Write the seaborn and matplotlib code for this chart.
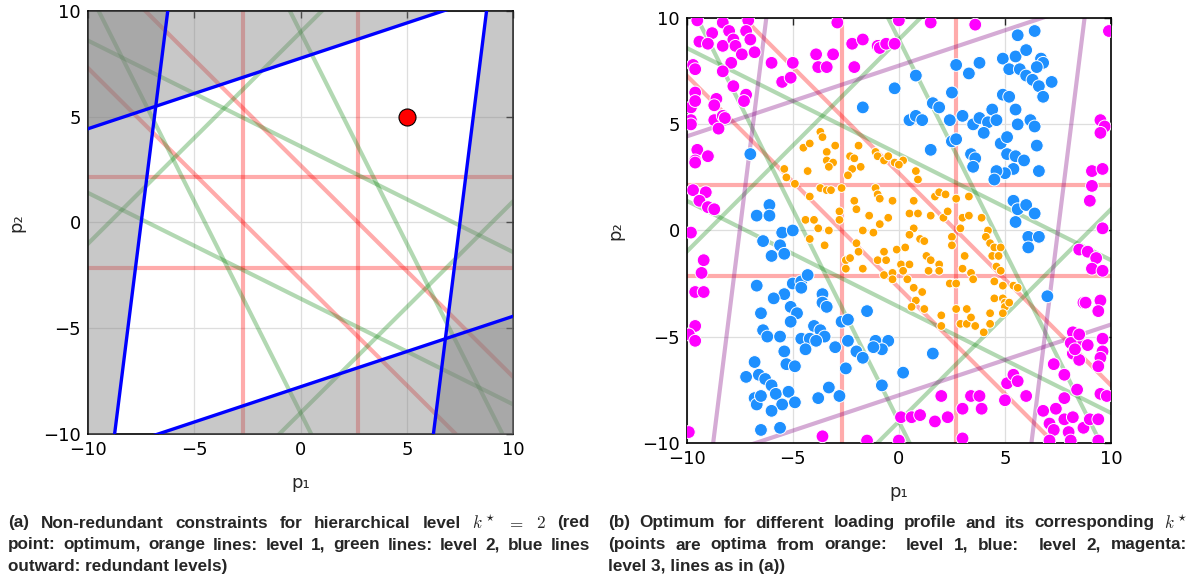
import numpy as np
import pandas as pd
import seaborn as sns
import matplotlib.pyplot as plt

# constraints a*p1 + b*p2 = c for each hierarchical level
level1_a = [1, 1, 0, 0, 1, 1]
level1_b = [0, 0, 1, 1, 1, 1]
level1_c = [-2.7, 2.7, 2.15, -2.15, 2.7, -2.7]
level2_a = [2, 2, 1, 1, -1, -1]
level2_b = [1, 1, 2, 2, 1, 1]
level2_c = [9, -9, 7.2, -7.2, 9, -9]
level3_a = [8, 8, -1, -1]
level3_b = [-1, -1, 3, 3]
level3_c = [60, -60, 23.3, -23.3]

optimum = [5, 5]
ticks = [-10, -5, 0, 5, 10]

# optima for the loading profiles, grouped by the level that is active
orange_pts = [(-3.7, 4.65), (-3.6, 4.4), (-4.5, 3.9), (-4.2, 4.1), (-3.0, 4.0), (-1.9, 4.0), (-3.4, 3.7),
              (-3.4, 3.3), (-3.1, 3.2), (-3.3, 3.0), (-2.3, 3.5), (-2.1, 3.4), (-1.8, 3.0), (-2.2, 2.9),
              (-2.4, 2.6), (-1.1, 3.7), (-1.0, 3.5), (-0.7, 3.3), (-0.5, 3.5), (-0.2, 3.2), (0.2, 3.3),
              (0.0, 3.1), (0.8, 2.8), (0.9, 2.4), (-5.4, 2.9), (-5.3, 2.5), (-4.9, 2.2), (-4.3, 2.8),
              (-3.7, 2.0), (-3.4, 1.9), (-3.2, 1.9), (-2.7, 2.0), (-1.1, 2.0), (-1.0, 1.7), (-0.9, 1.5),
              (-0.3, 1.4), (0.7, 1.4), (1.7, 1.6), (1.9, 1.8), (2.2, 1.7), (2.7, 1.5), (3.3, 1.6),
              (-4.2, 1.6), (-2.1, 1.4), (-2.0, 1.0), (-0.5, 0.6), (-1.4, 0.7), (0.5, 0.8), (0.9, 0.8),
              (1.5, 0.7), (2.1, 0.6), (2.3, 0.9), (3.0, 0.6), (3.3, 0.7), (3.9, 0.6), (-2.8, 0.9),
              (-2.8, 0.5), (-4.4, 0.5), (-4.0, 0.5), (-3.8, 0.1), (-3.3, 0.0), (-1.7, 0.0), (-1.2, -0.1),
              (-0.9, 0.3), (0.7, 0.1), (0.5, -0.2), (1.0, -0.4), (1.2, -0.5), (2.5, -0.3), (2.5, -0.7),
              (2.9, 0.1), (4.2, 0.0), (4.1, -0.3), (-4.2, -0.4), (-3.5, -0.7), (-2.0, -0.6), (-1.9, -1.0),
              (-2.5, -1.4), (-2.3, -1.3), (-2.5, -1.8), (-1.7, -1.8), (-1.0, -1.4), (-0.6, -1.4),
              (-0.7, -1.0), (-0.1, -0.9), (0.3, -0.8), (0.1, -1.6), (0.5, -1.6), (1.3, -1.2), (1.5, -1.4),
              (1.9, -1.6), (3.1, -1.2), (3.0, -1.8), (4.3, -0.6), (4.5, -0.8), (4.8, -0.8), (4.4, -1.2),
              (4.7, -1.2), (4.6, -1.7), (4.8, -1.9), (-0.7, -2.1), (-0.3, -2.0), (-0.3, -2.3), (0.2, -1.9),
              (1.4, -1.9), (1.9, -1.9), (0.4, -2.3), (0.7, -2.7), (1.1, -2.9), (2.4, -2.5), (2.7, -2.5),
              (3.4, -2.0), (3.5, -2.3), (4.5, -2.4), (4.9, -2.6), (5.4, -2.6), (5.6, -2.7), (0.8, -3.3),
              (0.6, -3.6), (1.2, -3.7), (2.0, -4.0), (2.0, -4.5), (2.7, -3.7), (3.2, -3.7), (2.9, -4.4),
              (3.2, -4.4), (3.4, -4.1), (3.6, -4.5), (4.3, -4.4), (4.0, -4.8), (4.3, -3.9), (4.5, -3.2),
              (4.9, -3.2), (5.0, -3.4), (5.0, -3.6), (5.2, -3.4), (4.9, -3.9)]

blue_pts = [(5.6, 9.2), (6.4, 9.4), (2.7, 7.8), (3.3, 7.4), (3.8, 7.9), (0.8, 7.3), (-0.2, 6.7), (4.9, 8.1),
            (5.5, 8.2), (6.0, 8.5), (6.7, 8.1), (6.8, 7.9), (6.5, 7.7), (5.2, 7.6), (5.7, 7.6), (6.0, 7.3),
            (6.3, 7.1), (6.6, 6.8), (7.2, 7.0), (6.8, 6.3), (4.9, 6.4), (5.2, 6.3), (5.5, 5.7), (2.5, 6.5),
            (1.6, 6.0), (1.9, 5.8), (0.5, 5.2), (0.8, 5.4), (1.1, 5.2), (2.4, 5.2), (3.0, 5.4), (4.4, 5.7),
            (3.5, 5.0), (3.8, 5.3), (4.2, 5.1), (4.6, 5.2), (4.0, 4.6), (5.6, 5.0), (6.2, 5.2), (6.4, 4.9),
            (-1.7, 5.8), (1.5, 3.8), (2.5, 4.2), (2.7, 4.3), (4.8, 4.1), (5.1, 4.4), (6.5, 4.0), (3.4, 3.6),
            (3.6, 3.4), (3.5, 3.0), (5.1, 3.6), (5.5, 3.5), (5.9, 3.3), (5.4, 2.9), (5.0, 2.7), (4.6, 2.8),
            (4.5, 2.4), (6.6, 2.8), (-7.0, 3.6), (5.4, 1.4), (5.6, 1.0), (6.0, 1.2), (6.4, 0.8), (5.5, 0.4),
            (6.1, -0.3), (6.6, -0.3), (6.1, -0.8), (7.0, -3.1), (-6.1, 1.2), (-6.7, 0.7), (-6.1, 0.7),
            (-5.5, -0.1), (-5.0, 0.0), (-6.4, -0.5), (-5.6, -0.7), (-6.0, -1.2), (-5.4, -1.1), (-6.7, -2.6),
            (-5.0, -2.5), (-4.6, -2.4), (-4.3, -2.1), (-4.6, -2.7), (-5.4, -3.0), (-5.9, -3.2), (-5.1, -3.6),
            (-3.6, -3.0), (-3.6, -3.4), (-3.4, -3.6), (-6.5, -3.9), (-4.8, -3.9), (-5.1, -4.3), (-2.7, -4.3),
            (-2.4, -4.2), (-1.5, -3.8), (-6.4, -4.7), (-6.2, -5.0), (-5.6, -5.0), (-4.6, -5.1), (-4.2, -5.1),
            (-4.0, -4.5), (-3.7, -4.7), (-3.5, -5.0), (-3.9, -5.2), (-4.4, -5.6), (-3.0, -5.5), (-2.4, -5.2),
            (-2.0, -5.7), (-1.7, -6.0), (-1.1, -5.2), (-0.5, -5.2), (-0.8, -5.6), (-1.2, -5.5), (-5.4, -5.7),
            (-5.3, -6.3), (-4.9, -6.4), (-6.8, -6.2), (-7.2, -6.9), (-6.6, -6.8), (-6.3, -7.0), (-6.0, -7.3),
            (-5.8, -7.7), (-5.2, -7.6), (-4.9, -8.1), (-5.5, -8.2), (-6.8, -7.9), (-6.7, -8.2), (-6.5, -7.8),
            (-6.0, -8.5), (-6.5, -9.4), (-5.6, -9.3), (-3.8, -7.9), (-3.3, -7.4), (-2.8, -7.8), (-2.5, -6.5),
            (-0.8, -7.3), (1.6, -5.8), (0.2, -6.7)]

magenta_pts = [(-9.5, 9.9), (-8.3, 9.8), (-7.1, 9.9), (-8.8, 9.3), (-8.0, 9.4), (-7.2, 9.4), (-7.0, 9.0),
               (-9.4, 8.9), (-9.0, 8.8), (-8.3, 8.7), (-7.8, 9.0), (-7.7, 8.7), (-7.4, 8.3), (-6.8, 8.4),
               (-7.9, 7.9), (-9.7, 7.8), (-9.6, 7.6), (-8.3, 7.5), (-6.0, 7.9), (-5.0, 7.9), (-5.5, 7.0),
               (-5.1, 7.2), (-7.8, 6.8), (-7.2, 6.4), (-7.3, 6.1), (-9.6, 6.5), (-8.6, 6.2), (-8.7, 5.9),
               (-9.8, 5.8), (-9.6, 6.1), (-9.8, 5.2), (-9.8, 5.0), (-8.7, 5.2), (-8.3, 5.4), (-8.2, 5.3),
               (-8.5, 4.8), (-3.9, 8.3), (-3.1, 8.3), (-3.8, 7.7), (-3.4, 7.7), (-2.1, 7.7), (-2.9, 9.8),
               (-2.2, 8.8), (-1.7, 9.0), (-1.0, 8.7), (-0.9, 8.6), (-0.6, 8.8), (-0.2, 8.8), (0.0, 9.9),
               (1.5, 9.8), (3.6, 9.7), (9.9, 9.4), (-9.5, 3.8), (-9.0, 3.5), (-9.6, 3.3), (-9.6, 3.2),
               (-9.7, 1.9), (-9.1, 1.8), (-9.4, 1.4), (-9.0, 1.1), (-8.7, 1.0), (-9.8, -0.1), (-9.2, -1.4),
               (-9.3, -2.0), (-9.6, -2.9), (-9.2, -2.9), (-9.6, -4.5), (-9.9, -4.9), (-9.6, -5.2),
               (-9.9, -9.5), (-3.6, -9.7), (-1.5, -9.9), (0.0, -9.9), (0.1, -8.8), (0.6, -8.8), (1.0, -8.7),
               (1.7, -9.0), (2.3, -8.8), (2.0, -7.8), (3.0, -8.4), (3.4, -7.8), (3.8, -7.8), (3.9, -8.4),
               (3.0, -9.8), (5.0, -8.0), (5.1, -7.2), (5.4, -6.8), (5.6, -7.1), (6.0, -7.8), (7.3, -6.3),
               (7.8, -6.8), (8.2, -4.8), (8.5, -5.2), (8.1, -5.3), (8.2, -5.8), (8.5, -6.1), (8.9, -5.4),
               (9.6, -5.1), (9.6, -5.7), (9.5, -6.0), (9.4, -6.4), (9.5, -7.7), (9.8, -7.8), (8.4, -7.5),
               (7.8, -7.9), (6.8, -8.5), (7.4, -8.4), (7.1, -9.1), (7.3, -9.4), (7.8, -8.9), (8.2, -8.8),
               (8.7, -9.3), (9.0, -8.9), (9.4, -8.9), (8.0, -9.5), (7.1, -9.9), (8.1, -9.9), (9.4, -9.9),
               (8.3, -5.6), (8.5, -4.9), (9.5, 5.2), (9.7, 4.9), (9.5, 4.6), (9.1, 2.8), (9.6, 2.9),
               (9.1, 2.1), (9.0, 1.4), (9.6, 0.1), (8.5, -0.9), (8.9, -1.0), (9.3, -1.3), (9.1, -1.8),
               (9.6, -1.9), (8.7, -3.4), (9.5, -3.3), (9.4, -3.8), (8.8, -3.4)]

caption_a = ["(a) Non-redundant constraints for hierarchical level $k^\\star$ $=$ $2$ (red",
             "point: optimum, orange lines: level 1, green lines: level 2, blue lines",
             "outward: redundant levels)"]
caption_b = ["(b) Optimum for different loading profile and its corresponding $k^\\star$",
             "(points are optima from orange:  level 1, blue:  level 2, magenta:",
             "level 3, lines as in (a))"]

sns.set_style("white")
plt.rcParams['font.family'] = ['DejaVu Sans']
plt.rcParams['mathtext.fontset'] = 'cm'

fig = plt.figure(figsize=(11.93, 5.82), dpi=100)
ax1 = fig.add_axes([0.0738, 0.2543, 0.3563, 0.7268])
ax2 = fig.add_axes([0.5756, 0.2394, 0.3557, 0.7292])


def draw_constraint(ax, a, b, c, **kw):
    if b == 0:
        ax.axvline(c / a, **kw)
    else:
        x = np.array([-12.0, 12.0])
        ax.plot(x, (c - a * x) / b, **kw)


red_kw = dict(color='red', alpha=0.33, lw=3.0, solid_capstyle='butt')
green_kw = dict(color='green', alpha=0.3, lw=3.0, solid_capstyle='butt')

# (a) lines, redundant half planes shaded
for ax in (ax1, ax2):
    for a, b, c in zip(level1_a, level1_b, level1_c):
        draw_constraint(ax, a, b, c, zorder=2, **red_kw)
    for a, b, c in zip(level2_a, level2_b, level2_c):
        draw_constraint(ax, a, b, c, zorder=2, **green_kw)

xs = np.linspace(-10, 10, 801)
for a, b, c in zip(level3_a, level3_b, level3_c):
    edge = np.clip((c - a * xs) / b, -10, 10)
    if (c > 0) == (b > 0):
        ax1.fill_between(xs, edge, 10, color='0.5', alpha=0.43, lw=0, zorder=3)
    else:
        ax1.fill_between(xs, -10, edge, color='0.5', alpha=0.43, lw=0, zorder=3)
    draw_constraint(ax1, a, b, c, color='blue', lw=2.4, zorder=4)
    draw_constraint(ax2, a, b, c, color='purple', alpha=0.33, lw=3.0, zorder=2)

sns.scatterplot(x=[optimum[0]], y=[optimum[1]], color='red', s=150, edgecolor='black',
                linewidth=0.8, zorder=5, ax=ax1)

# (b) optima coloured by level
frames = []
for name, pts in [('level 1', orange_pts), ('level 2', blue_pts), ('level 3', magenta_pts)]:
    arr = np.array(pts)
    frames.append(pd.DataFrame({'p1': arr[:, 0], 'p2': arr[:, 1], 'level': name}))
df = pd.concat(frames, ignore_index=True)
sns.scatterplot(data=df, x='p1', y='p2', hue='level', size='level',
                palette={'level 1': 'orange', 'level 2': 'dodgerblue', 'level 3': 'magenta'},
                sizes={'level 1': 40, 'level 2': 85, 'level 3': 85},
                edgecolor='white', linewidth=0.7, legend=False, zorder=5, ax=ax2)

for ax in (ax1, ax2):
    ax.set_xlim(-10, 10)
    ax.set_ylim(-10, 10)
    ax.set_xticks(ticks)
    ax.set_yticks(ticks)
    ax.grid(True, color='0.87', lw=0.9)
    ax.set_axisbelow(True)
    ax.tick_params(direction='in', top=True, right=True, length=5, width=1.0,
                   labelsize=13, pad=5, labelcolor='black')
    for s in ax.spines.values():
        s.set_color('black')
        s.set_linewidth(1.2)
    ax.set_xlabel('p₁', fontsize=13, labelpad=11)
    ax.set_ylabel('p₂', fontsize=13, labelpad=13)

# captions, first two lines justified like the source
renderer = fig.canvas.get_renderer()
W = fig.bbox.width
H = fig.bbox.height
cap_kw = dict(fontsize=12.3, fontweight='bold', family='Liberation Sans', va='center')


def caption(lines, x0, x1):
    for i, line in enumerate(lines):
        y = 1 - (523 + 22 * i) / H
        if i == len(lines) - 1:
            fig.text(x0 / W, y, line, **cap_kw)
            continue
        words = line.split(' ')
        items = [fig.text(0, y, w, **cap_kw) for w in words]
        widths = [t.get_window_extent(renderer).width for t in items]
        gap = (x1 - x0 - sum(widths)) / (len(words) - 1)
        x = x0
        for t, w in zip(items, widths):
            t.set_x(x / W)
            x += w + gap


caption(caption_a, 8, 590)
caption(caption_b, 608, 1187)

fig.savefig('out.png', dpi=100)
